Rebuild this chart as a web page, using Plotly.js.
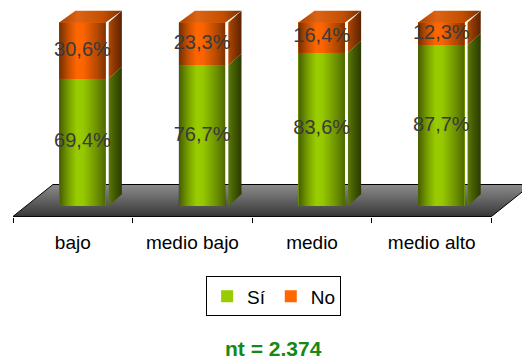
<!DOCTYPE html>
<html>
<head>
<meta charset="utf-8">
<script src="https://cdn.plot.ly/plotly-3.0.1.min.js"></script>
<style>
  html, body { margin: 0; padding: 0; background: #fff; }
  #chart { width: 522px; height: 363px; }
</style>
</head>
<body>
<div id="chart"></div>
<script>
// Respuesta por nivel socioeconómico (porcentajes)
const categories = ['bajo', 'medio bajo', 'medio', 'medio alto'];
const siValues = [69.4, 76.7, 83.6, 87.7];
const noValues = [30.6, 23.3, 16.4, 12.3];
const seriesNames = ['Sí', 'No'];
const sampleNote = 'nt = 2.374';

// Pseudo-3D geometry, expressed in axis units
const BAR_OFFSET = -0.114, BAR_WIDTH = 0.389;
const DEPTH_X = 0.135, DEPTH_Y = 6.4, SIDE_GAP = 0.025;
const FLOOR_FRONT = -5.7, FLOOR_DX = 0.334, FLOOR_DY = 17.4;
const X_RANGE = [-0.5, 3.755], Y_RANGE = [-6, 109.5];

const FONT = 'Liberation Sans, Arial, sans-serif';
const pct = v => v.toFixed(1).replace('.', ',') + '%';
const idx = categories.map((_, i) => i);

// Filled polygon with a gradient fill
function face(xs, ys, gradType, start, stop, scale, axis, line) {
  return {
    type: 'scatter', mode: 'lines', xaxis: axis || 'x2', yaxis: 'y',
    x: xs.concat([xs[0]]), y: ys.concat([ys[0]]),
    fill: 'toself',
    fillgradient: { type: gradType, start: start, stop: stop, colorscale: scale },
    line: line || { width: 0 },
    hoverinfo: 'skip', showlegend: false
  };
}

const traces = [];

// Floor under the columns
const fL = -0.5, fR = categories.length - 0.5;
traces.push(face(
  [fL, fR, fR + FLOOR_DX, fL + FLOOR_DX],
  [FLOOR_FRONT, FLOOR_FRONT, FLOOR_FRONT + FLOOR_DY, FLOOR_FRONT + FLOOR_DY],
  'vertical', FLOOR_FRONT, FLOOR_FRONT + FLOOR_DY,
  [[0, '#383838'], [0.35, '#555555'], [1, '#8c8c8c']],
  'x', { width: 1, color: '#000' }
));

// Front faces of the stacked columns
traces.push({
  type: 'bar', name: seriesNames[0], xaxis: 'x2', yaxis: 'y',
  x: idx, y: siValues, width: BAR_WIDTH, offset: BAR_OFFSET,
  marker: { color: '#99CC00', line: { width: 0 } }, hoverinfo: 'skip'
});
traces.push({
  type: 'bar', name: seriesNames[1], xaxis: 'x2', yaxis: 'y',
  x: idx, y: noValues, width: BAR_WIDTH, offset: BAR_OFFSET,
  marker: { color: '#FF6600', line: { width: 0 } }, hoverinfo: 'skip'
});

// Cylindrical shading, side faces and caps
const shade = [[0, 'rgba(0,0,0,0.55)'], [0.2, 'rgba(0,0,0,0.22)'], [0.38, 'rgba(0,0,0,0)'],
               [0.52, 'rgba(0,0,0,0.02)'], [0.82, 'rgba(0,0,0,0.3)'], [1, 'rgba(0,0,0,0.5)']];
const sideGreen = [[0, '#5a780a'], [0.45, '#435a00'], [1, '#2a3a00']];
const sideOrange = [[0, '#b04a00'], [0.45, '#8a3600'], [1, '#5a2200']];
const capOrange = [[0, '#a84200'], [0.3, '#dd6414'], [0.7, '#c25000'], [1, '#7a3000']];

idx.forEach(i => {
  const xl = i + BAR_OFFSET, xr = xl + BAR_WIDTH;
  const y0 = 0, y1 = siValues[i], y2 = siValues[i] + noValues[i];
  // shading over the front faces
  traces.push(face([xl, xr, xr, xl], [y0, y0, y1, y1], 'horizontal', xl, xr, shade));
  traces.push(face([xl, xr, xr, xl], [y1, y1, y2, y2], 'horizontal', xl, xr, shade));
  // side faces
  const sl = xr + SIDE_GAP, sr = xr + DEPTH_X;
  traces.push(face([sl, sr, sr, sl], [y0, y0 + DEPTH_Y, y1 + DEPTH_Y, y1], 'horizontal', sl, sr, sideGreen));
  traces.push(face([sl, sr, sr, sl], [y1, y1 + DEPTH_Y, y2 + DEPTH_Y, y2], 'horizontal', sl, sr, sideOrange));
  // top cap
  traces.push(face([xl, xr, xr + DEPTH_X, xl + DEPTH_X], [y2, y2, y2 + DEPTH_Y, y2 + DEPTH_Y],
                   'horizontal', xl, xr + DEPTH_X, capOrange));
});

// Value labels centred on each segment
const labelX = [], labelY = [], labelText = [];
idx.forEach(i => {
  const cx = i + BAR_OFFSET + BAR_WIDTH / 2;
  labelX.push(cx, cx);
  labelY.push(siValues[i] / 2, siValues[i] + noValues[i] / 2);
  labelText.push(pct(siValues[i]), pct(noValues[i]));
});
traces.push({
  type: 'scatter', mode: 'text', xaxis: 'x2', yaxis: 'y',
  x: labelX, y: labelY, text: labelText, textposition: 'middle center',
  textfont: { family: FONT, size: 20, color: '#3a3a3a' },
  hoverinfo: 'skip', showlegend: false, cliponaxis: false
});

const boundaries = categories.map((_, i) => i - 0.5).concat([categories.length - 0.5]);

const layout = {
  width: 522, height: 363,
  margin: { l: 13, r: 0, t: 5, b: 146 },
  paper_bgcolor: '#fff', plot_bgcolor: 'rgba(0,0,0,0)',
  font: { family: FONT, color: '#000' },
  barmode: 'stack',
  showlegend: true,
  xaxis: {
    range: X_RANGE, tickvals: boundaries, ticktext: boundaries.map(() => ''),
    ticks: 'outside', ticklen: 5, tickwidth: 1, tickcolor: '#000',
    showgrid: false, zeroline: false, showline: false, fixedrange: true
  },
  xaxis2: {
    overlaying: 'x', anchor: 'y', range: X_RANGE,
    tickvals: idx, ticktext: categories, ticks: '',
    tickfont: { family: FONT, size: 19, color: '#000' }, ticklabelstandoff: 12,
    showgrid: false, zeroline: false, showline: false, fixedrange: true
  },
  yaxis: { range: Y_RANGE, visible: false, fixedrange: true },
  legend: {
    orientation: 'h', traceorder: 'normal',
    x: 0.512, xanchor: 'center', y: -0.28, yanchor: 'top',
    bordercolor: '#000', borderwidth: 1, bgcolor: '#fff',
    font: { family: FONT, size: 19, color: '#000' }
  },
  annotations: [{
    xref: 'paper', yref: 'paper', x: 0.512, y: -0.62, xanchor: 'center', yanchor: 'middle',
    text: '<b>' + sampleNote + '</b>', showarrow: false,
    font: { family: FONT, size: 21, color: '#168816' }
  }]
};

Plotly.newPlot('chart', traces, layout, { displayModeBar: false, staticPlot: true });
</script>
</body>
</html>
